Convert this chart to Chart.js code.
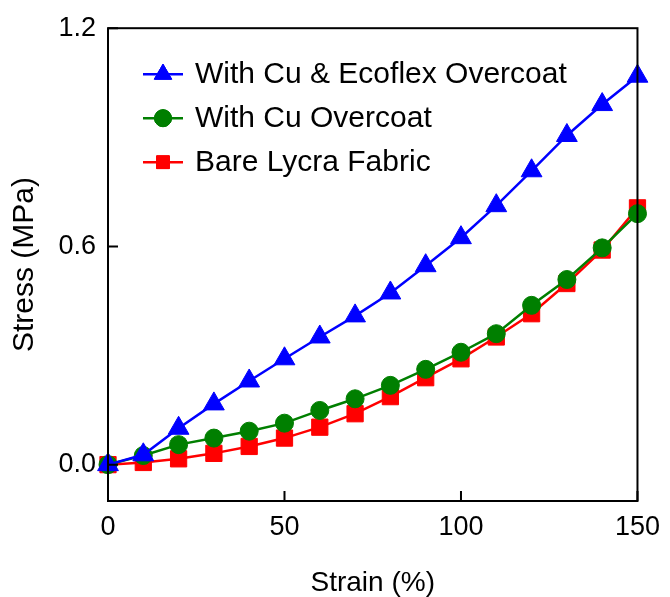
<!DOCTYPE html>
<html>
<head>
<meta charset="utf-8">
<script src="https://cdn.jsdelivr.net/npm/chart.js@4.4.1/dist/chart.umd.min.js"></script>
<style>
  html, body { margin: 0; padding: 0; background: #fff; }
  #wrap { width: 670px; height: 597px; position: relative; }
</style>
</head>
<body>
<div id="wrap"><canvas id="c" width="670" height="597"></canvas></div>
<script>
// ---- data ----
const strain = [0, 10, 20, 30, 40, 50, 60, 70, 80, 90, 100, 110, 120, 130, 140, 150];
const ecoflexOvercoat = [0, 0.027, 0.100, 0.167, 0.230, 0.291, 0.351, 0.409, 0.472, 0.547, 0.624, 0.712, 0.808, 0.905, 0.990, 1.068];
const cuOvercoat = [0, 0.025, 0.055, 0.073, 0.092, 0.114, 0.149, 0.181, 0.218, 0.262, 0.309, 0.360, 0.438, 0.509, 0.596, 0.690];
const bareLycra = [0, 0.006, 0.016, 0.031, 0.050, 0.073, 0.103, 0.140, 0.187, 0.239, 0.291, 0.351, 0.415, 0.498, 0.590, 0.706];
const seriesLabels = ['With Cu & Ecoflex Overcoat', 'With Cu Overcoat', 'Bare Lycra Fabric'];
const xTicks = [0, 50, 100, 150];
const yTicks = [0, 0.6, 1.2];

const FONT = "Arial, 'Liberation Sans', sans-serif";

function pts(ys) { return strain.map((x, i) => ({ x: x, y: ys[i] })); }

const legendRadius = [10, 8.5, 9];

const frame = {
  id: 'frame',
  afterDraw(chart) {
    const ctx = chart.ctx;
    const a = chart.chartArea;
    const xs = chart.scales.x, ys = chart.scales.y;
    ctx.save();
    ctx.strokeStyle = '#000';
    ctx.lineWidth = 2;
    ctx.strokeRect(a.left, a.top, a.right - a.left, a.bottom - a.top);
    // inward tick marks
    ctx.beginPath();
    xTicks.forEach(v => {
      const px = xs.getPixelForValue(v);
      ctx.moveTo(px, a.bottom);
      ctx.lineTo(px, a.bottom - 10);
    });
    yTicks.forEach(v => {
      const py = ys.getPixelForValue(v);
      ctx.moveTo(a.left, py);
      ctx.lineTo(a.left + 10, py);
    });
    ctx.stroke();

    // legend
    const x0 = a.left + 35, lineLen = 40, rowY0 = a.top + 46, rowGap = 44;
    chart.data.datasets.forEach((ds, i) => {
      const y = rowY0 + i * rowGap;
      ctx.strokeStyle = ds.borderColor;
      ctx.lineWidth = 2.5;
      ctx.beginPath();
      ctx.moveTo(x0, y);
      ctx.lineTo(x0 + lineLen, y);
      ctx.stroke();
      ctx.lineWidth = 1;
      Chart.helpers.drawPoint(ctx, {
        pointStyle: ds.pointStyle,
        radius: legendRadius[i],
        borderWidth: 1,
        rotation: 0
      }, x0 + lineLen / 2, y);
      ctx.fillStyle = ds.pointBackgroundColor;
      ctx.strokeStyle = ds.pointBorderColor;
      ctx.fill();
      ctx.stroke();
      ctx.fillStyle = '#000';
      ctx.font = '30px ' + FONT;
      ctx.textBaseline = 'middle';
      ctx.textAlign = 'left';
      ctx.fillText(ds.label, x0 + lineLen + 12, y + 1);
    });
    ctx.restore();
  }
};

function mk(label, ys, color, style, r) {
  return {
    label: label,
    data: pts(ys),
    borderColor: color,
    backgroundColor: color,
    pointBackgroundColor: color,
    pointBorderColor: color,
    pointBorderWidth: 1,
    pointStyle: style,
    pointRadius: r,
    pointHoverRadius: r,
    borderWidth: 2.5,
    tension: 0,
    clip: false
  };
}

new Chart(document.getElementById('c'), {
  type: 'line',
  data: {
    datasets: [
      mk(seriesLabels[0], ecoflexOvercoat, '#0000ff', 'triangle', 12),
      mk(seriesLabels[1], cuOvercoat, '#007f00', 'circle', 9),
      mk(seriesLabels[2], bareLycra, '#ff0000', 'rect', 11.5)
    ]
  },
  options: {
    responsive: false,
    animation: false,
    events: [],
    layout: { padding: { left: 0, top: 28, right: 30, bottom: 0 } },
    plugins: { legend: { display: false }, tooltip: { enabled: false } },
    scales: {
      x: {
        type: 'linear',
        min: 0, max: 150,
        afterBuildTicks(s) { s.ticks = xTicks.map(v => ({ value: v })); },
        afterFit(s) { s.height = 96; },
        grid: { display: false, drawTicks: false },
        border: { display: false },
        ticks: {
          color: '#000',
          font: { family: FONT, size: 27 },
          padding: 10,
          maxRotation: 0,
          callback: v => String(v)
        },
        title: {
          display: true,
          text: 'Strain (%)',
          color: '#000',
          font: { family: FONT, size: 28, lineHeight: 0.95 },
          padding: 0
        }
      },
      y: {
        type: 'linear',
        min: -0.1, max: 1.2,
        afterBuildTicks(s) { s.ticks = yTicks.map(v => ({ value: v })); },
        afterFit(s) { s.width = 108; },
        grid: { display: false, drawTicks: false },
        border: { display: false },
        ticks: {
          color: '#000',
          font: { family: FONT, size: 27 },
          padding: 12,
          callback: v => Number(v).toFixed(1)
        },
        title: {
          display: true,
          text: 'Stress (MPa)',
          color: '#000',
          font: { family: FONT, size: 30 },
          padding: { top: 7, bottom: 0 }
        }
      }
    }
  },
  plugins: [frame]
});
</script>
</body>
</html>
